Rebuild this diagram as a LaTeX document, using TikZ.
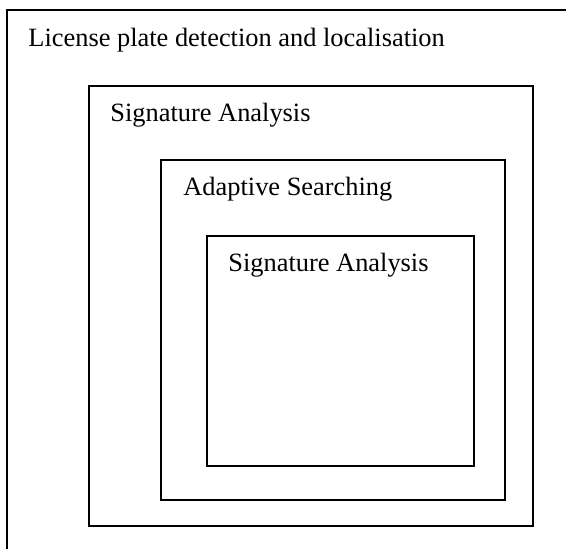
\documentclass[tikz,border=0pt]{standalone}
\usepackage{fontspec}
\setmainfont{Liberation Serif}
\usetikzlibrary{positioning}

\tikzset{
  boxline/.style={line width=1pt, black},
  lbl/.style={anchor=base west, inner sep=0pt, font=\fontsize{13.2}{15}\selectfont}
}

\begin{document}
\begin{tikzpicture}[x=0.5pt, y=-0.5pt]
              \useasboundingbox (0, 0) rectangle (566, 549);
              \draw[boxline] (7, 10) rectangle (572, 556);
              \draw[boxline] (89, 86) rectangle (532.5, 526);
              \draw[boxline] (160.5, 160) rectangle (504.5, 500);
              \draw[boxline] (206.5, 236) rectangle (473.5, 466);
              \node[lbl] (detect) at (28, 46.7) {License plate detection and localisation};
              \node[lbl] (sigouter) at (110, 121.7) {Signature Analysis};
              \node[lbl] (adaptive) at (183, 196) {Adaptive Searching};
              \node[lbl] (siginner) at (228, 271.7) {Signature Analysis};
            \end{tikzpicture}
\end{document}
